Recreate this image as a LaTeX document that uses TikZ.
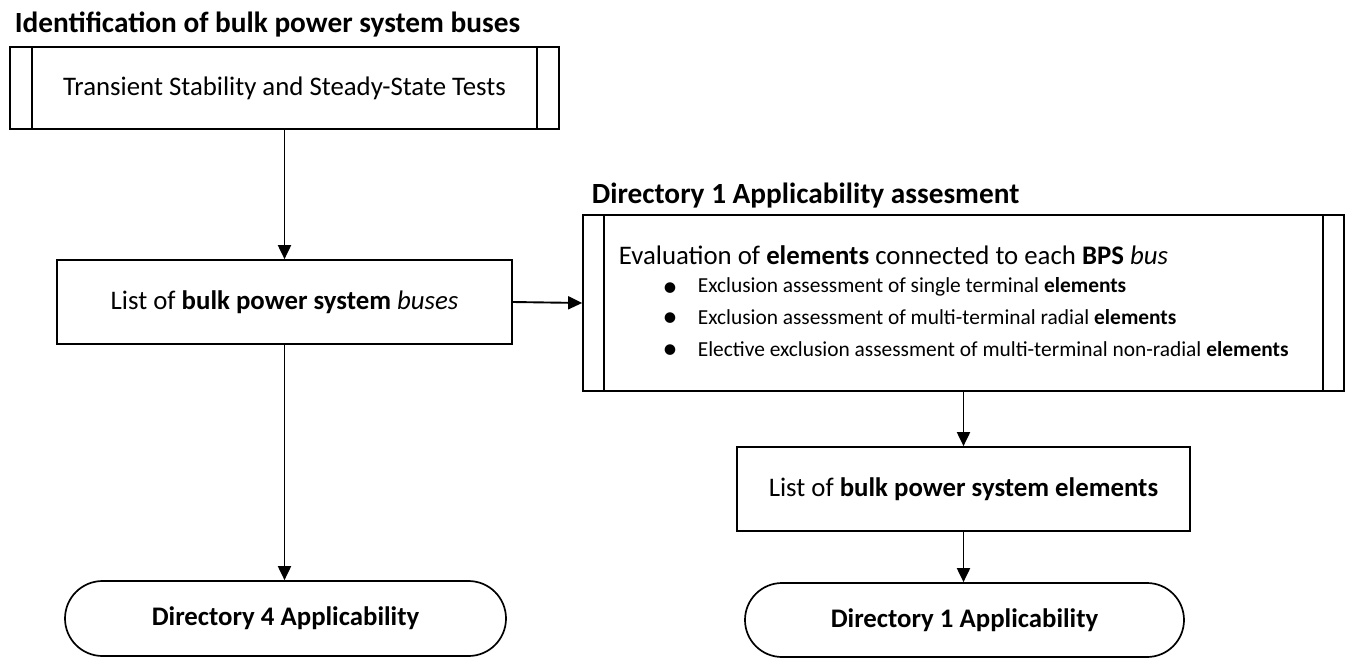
\documentclass[tikz,border=0pt]{standalone}
\usepackage{fontspec}
\setmainfont{Carlito}
\usetikzlibrary{arrows.meta,shapes.misc}
\begin{document}
\begin{tikzpicture}[x=1pt,y=-1pt,
  line width=1.7pt,
  flow/.style={line width=1.9pt, -{Triangle[length=14pt,width=13pt]}},
  bigtxt/.style={font=\fontsize{26.8}{31}\selectfont},
  titletxt/.style={font=\fontsize{29.3}{34}\selectfont\bfseries, inner sep=0pt},
  smalltxt/.style={font=\fontsize{21.4}{25}\selectfont, inner sep=0pt},
  dottxt/.style={font=\fontsize{30}{30}\selectfont, inner sep=0pt},
  procbox/.style={draw, rectangle, inner sep=0pt, bigtxt},
  termbox/.style={draw, rounded rectangle, inner sep=0pt, bigtxt}
]
\useasboundingbox (0,0) rectangle (1350,659);

% titles
\node[titletxt, anchor=base west] (t1) at (14,32) {Identification of bulk power system buses};
\node[titletxt, anchor=base west] (t2) at (591,203) {Directory 1 Applicability assesment};

% left column
\node[procbox, minimum width=549pt, minimum height=82pt] (b1) at (284.5,88) {Transient Stability and Steady-State Tests};
\draw ([xshift=23pt]b1.north west) -- ([xshift=23pt]b1.south west);
\draw ([xshift=-23pt]b1.north east) -- ([xshift=-23pt]b1.south east);

\node[procbox, minimum width=455pt, minimum height=84pt] (lb) at (284.5,302) {List of \textbf{bulk power system} \textit{buses}};

\node[termbox, minimum width=441pt, minimum height=75pt] (d4) at (285.5,618.5) {\textbf{Directory 4 Applicability}};

% right column
\node[draw, rectangle, inner sep=0pt, minimum width=761pt, minimum height=176pt] (ev) at (963.5,303) {};
\draw ([xshift=22pt]ev.north west) -- ([xshift=22pt]ev.south west);
\draw ([xshift=-22pt]ev.north east) -- ([xshift=-22pt]ev.south east);

\node[bigtxt, inner sep=0pt, anchor=west] (evt) at (618,255) {Evaluation of \textbf{elements} connected to each \textbf{BPS} \textit{bus}};
\node[dottxt, anchor=center] (d1) at (670,290) {•};
\node[smalltxt, anchor=west] (i1) at (697,287) {Exclusion assessment of single terminal \textbf{elements}};
\node[dottxt, anchor=center] (d2) at (670,320) {•};
\node[smalltxt, anchor=west] (i2) at (697,317) {Exclusion assessment of multi-terminal radial \textbf{elements}};
\node[dottxt, anchor=center] (d3) at (670,352) {•};
\node[smalltxt, anchor=west] (i3) at (697,349) {Elective exclusion assessment of multi-terminal non-radial \textbf{elements}};

\node[procbox, minimum width=453pt, minimum height=84pt] (el) at (963.5,489) {List of \textbf{bulk power system elements}};

\node[termbox, minimum width=439pt, minimum height=74pt] (dd1) at (964.5,620) {\textbf{Directory 1 Applicability}};

% connectors
\draw[flow] (b1.south) -- (lb.north);
\draw[flow] (lb.south) -- (lb.south |- d4.north);
\draw[flow] (lb.east) -- (ev.west);
\draw[flow] (ev.south) -- (el.north);
\draw[flow] (el.south) -- (el.south |- dd1.north);
\end{tikzpicture}
\end{document}
